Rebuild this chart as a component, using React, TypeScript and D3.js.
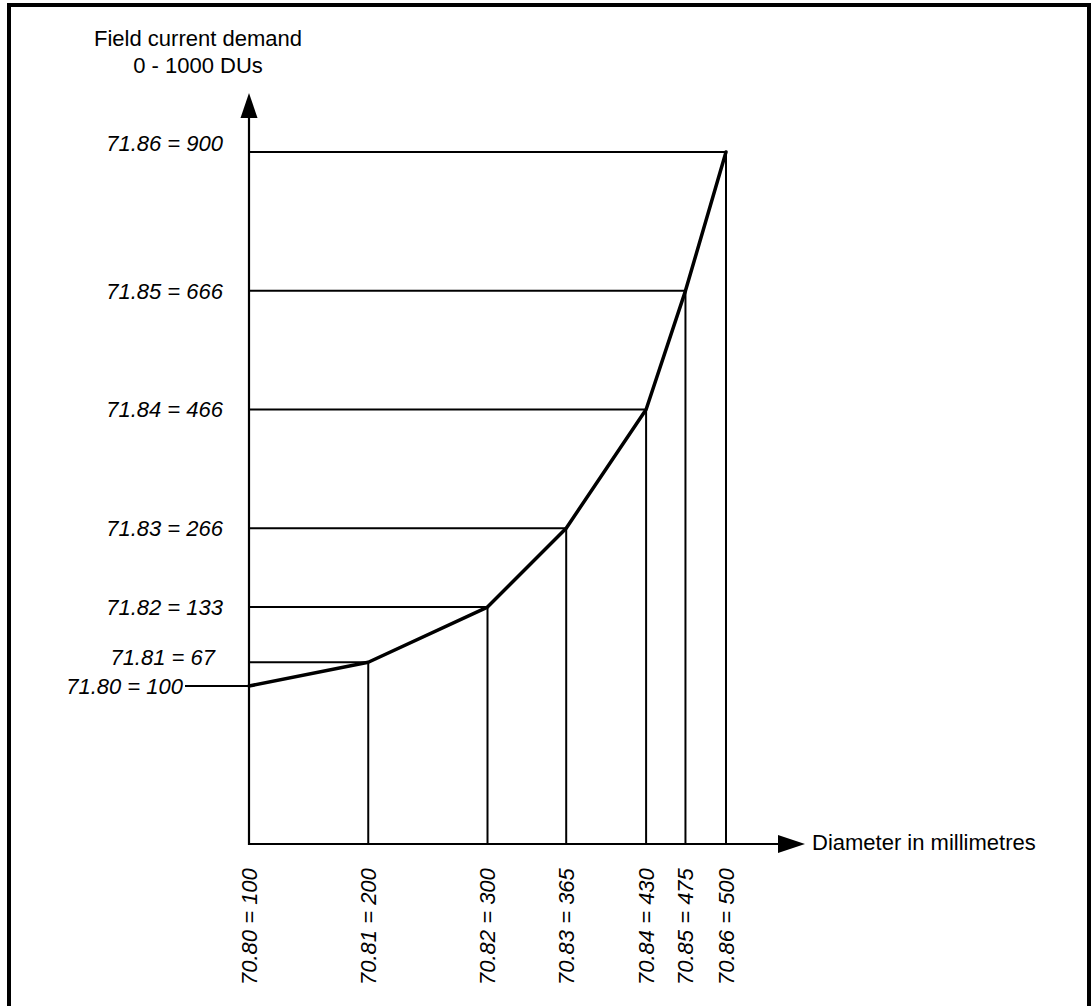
import React, { useEffect, useRef } from 'react';
import * as d3 from 'd3';

// Diameter values as plotted (it is schematic)
const diameterPlot = [100, 200, 300, 366, 433, 466, 500];
// Field current demand as plotted
const demandPlot = [0, 40, 133, 266, 466, 666, 900];

const xTickLabels = [
  '70.80 = 100',
  '70.81 = 200',
  '70.82 = 300',
  '70.83 = 365',
  '70.84 = 430',
  '70.85 = 475',
  '70.86 = 500',
];
const yTickLabels = [
  '71.80 = 100',
  '71.81 = 67',
  '71.82 = 133',
  '71.83 = 266',
  '71.84 = 466',
  '71.85 = 666',
  '71.86 = 900',
];

const yTitle = ['Field current demand', '0 - 1000 DUs'];
const xTitle = 'Diameter in millimetres';

const WIDTH = 1092;
const HEIGHT = 1006;
const FONT = "'Liberation Sans', Arial, Helvetica, sans-serif";

const App: React.FC = () => {
  const svgRef = useRef<SVGSVGElement>(null);

  useEffect(() => {
    if (!svgRef.current) return;
    const svg = d3.select(svgRef.current);
    svg.selectAll('*').remove();

    const originX = 249;
    const originY = 844;

    const x = d3.scaleLinear().domain([100, 500]).range([originX, 726]);
    const y = d3.scaleLinear().domain([0, 900]).range([686, 152]);

    // frame
    svg.append('rect')
      .attr('x', 9).attr('y', 5)
      .attr('width', 1080).attr('height', HEIGHT + 20)
      .attr('fill', 'none').attr('stroke', '#000').attr('stroke-width', 4);

    const pts = diameterPlot.map((d, i) => ({ x: x(d), y: y(demandPlot[i]) }));

    // reference lines (skip the first point's horizontal, it sits on its label leader)
    const g = svg.append('g').attr('stroke', '#000').attr('stroke-width', 2);
    pts.forEach((p, i) => {
      if (i > 0) {
        g.append('line').attr('x1', originX).attr('x2', p.x).attr('y1', p.y).attr('y2', p.y);
        g.append('line').attr('x1', p.x).attr('x2', p.x).attr('y1', p.y).attr('y2', originY);
      }
    });
    // leader from the first label to the axis
    g.append('line').attr('x1', 185).attr('x2', originX)
      .attr('y1', pts[0].y).attr('y2', pts[0].y);

    // axes
    const axes = svg.append('g').attr('stroke', '#000').attr('stroke-width', 2.2);
    axes.append('line').attr('x1', originX).attr('x2', originX).attr('y1', originY + 1).attr('y2', 116);
    axes.append('line').attr('x1', originX - 1).attr('x2', 780).attr('y1', originY).attr('y2', originY);
    svg.append('path')
      .attr('d', `M${originX},93 L${originX + 8.5},118 L${originX - 8.5},118 Z`)
      .attr('fill', '#000');
    svg.append('path')
      .attr('d', `M805,${originY} L778,${originY - 9} L778,${originY + 9} Z`)
      .attr('fill', '#000');

    // curve
    const line = d3.line<{ x: number; y: number }>().x(d => d.x).y(d => d.y);
    svg.append('path')
      .datum(pts)
      .attr('d', line)
      .attr('fill', 'none')
      .attr('stroke', '#000')
      .attr('stroke-width', 3.5)
      .attr('stroke-linejoin', 'round')
      .attr('stroke-linecap', 'round');

    // y labels
    const yLabelX = [183, 215, 223, 223, 223, 223, 223];
    const yLabelDy = [0, -5, 0, 0, 0, 0, -8.5];
    svg.append('g').selectAll('text')
      .data(yTickLabels)
      .join('text')
      .attr('x', (_, i) => yLabelX[i])
      .attr('y', (_, i) => pts[i].y + yLabelDy[i])
      .attr('dy', '0.35em')
      .attr('text-anchor', 'end')
      .attr('font-family', FONT)
      .attr('font-size', 22)
      .attr('font-style', 'italic')
      .attr('fill', '#000')
      .text(d => d);

    // x labels, rotated
    svg.append('g').selectAll('text')
      .data(xTickLabels)
      .join('text')
      .attr('transform', (_, i) => `translate(${pts[i].x},985) rotate(-90)`)
      .attr('dy', '0.35em')
      .attr('text-anchor', 'start')
      .attr('font-family', FONT)
      .attr('font-size', 22)
      .attr('font-style', 'italic')
      .attr('fill', '#000')
      .text(d => d);

    // axis titles
    svg.append('g').selectAll('text')
      .data(yTitle)
      .join('text')
      .attr('x', 198)
      .attr('y', (_, i) => 46 + i * 27)
      .attr('text-anchor', 'middle')
      .attr('font-family', FONT)
      .attr('font-size', 22)
      .attr('fill', '#000')
      .text(d => d);

    svg.append('text')
      .attr('x', 812)
      .attr('y', 850)
      .attr('font-family', FONT)
      .attr('font-size', 22)
      .attr('fill', '#000')
      .text(xTitle);
  }, []);

  return (
    <svg
      ref={svgRef}
      width={WIDTH}
      height={HEIGHT}
      viewBox={`0 0 ${WIDTH} ${HEIGHT}`}
      style={{ position: 'absolute', left: 0, top: 0, background: '#fff', display: 'block' }}
    />
  );
};

export default App;
